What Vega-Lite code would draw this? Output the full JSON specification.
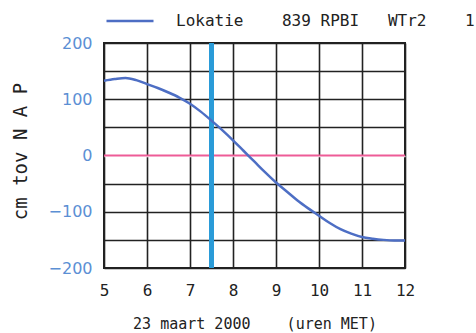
{
  "$schema": "https://vega.github.io/schema/vega-lite/v6.json",
  "autosize": {"type": "none"},
  "padding": {"left": 104, "top": 43, "right": 71, "bottom": 65},
  "width": 301,
  "height": 225,
  "background": "white",
  "config": {
    "view": {"stroke": "#222", "strokeWidth": 2},
    "font": "DejaVu Sans Mono"
  },
  "encoding": {
    "x": {
      "field": "hour", "type": "quantitative",
      "scale": {"domain": [5, 12], "nice": false},
      "axis": {
        "values": [5, 6, 7, 8, 9, 10, 11, 12],
        "grid": true, "gridColor": "#222", "gridWidth": 1.6, "gridOpacity": 1,
        "domain": false, "ticks": false,
        "labelFont": "DejaVu Sans Mono", "labelFontSize": 16, "labelColor": "#222",
        "labelPadding": 14, "labelFlush": false,
        "title": "23 maart 2000\u00a0\u00a0\u00a0\u00a0(uren MET)",
        "titleFont": "DejaVu Sans Mono", "titleFontSize": 15, "titleFontWeight": "normal",
        "titleColor": "#222", "titleY": 60, "titleBaseline": "alphabetic"
      }
    },
    "y": {
      "field": "cm", "type": "quantitative",
      "scale": {"domain": [-200, 200], "nice": false},
      "axis": {
        "values": [-200, -150, -100, -50, 0, 50, 100, 150, 200],
        "labelExpr": "datum.value % 100 == 0 ? datum.label : ''",
        "grid": true,
        "gridColor": {"condition": {"test": "datum.value === 0", "value": "#ffffff"}, "value": "#222"},
        "gridWidth": 1.6, "gridOpacity": 1,
        "domain": false, "ticks": false,
        "labelFont": "DejaVu Sans", "labelFontSize": 16, "labelColor": "#5b8fd4",
        "labelPadding": 12, "labelFlush": false,
        "title": "cm tov N A P",
        "titleFont": "DejaVu Sans Mono", "titleFontSize": 19, "titleFontWeight": "normal",
        "titleColor": "#222", "titleX": -84, "titleY": 108, "titleBaseline": "middle", "titleAlign": "center"
      }
    }
  },
  "layer": [
    {
      "data": {"values": [
        {"hour": 5, "cm": 0},
        {"hour": 12, "cm": 0}
      ]},
      "mark": {"type": "line", "color": "#ee5c97", "strokeWidth": 2.2}
    },
    {
      "data": {"values": [
        {"hour": 7.5, "cm": -200},
        {"hour": 7.5, "cm": 200}
      ]},
      "mark": {"type": "line", "color": "#2a9bd8", "strokeWidth": 5, "strokeCap": "butt"}
    },
    {
      "data": {"values": [
        {"hour": 5.0, "cm": 133, "series": "Lokatie\u00a0\u00a0\u00a0\u00a0839 RPBI\u00a0\u00a0\u00a0WTr2\u00a0\u00a0\u00a0\u00a01"},
        {"hour": 5.25, "cm": 136, "series": "Lokatie\u00a0\u00a0\u00a0\u00a0839 RPBI\u00a0\u00a0\u00a0WTr2\u00a0\u00a0\u00a0\u00a01"},
        {"hour": 5.5, "cm": 138, "series": "Lokatie\u00a0\u00a0\u00a0\u00a0839 RPBI\u00a0\u00a0\u00a0WTr2\u00a0\u00a0\u00a0\u00a01"},
        {"hour": 5.75, "cm": 134, "series": "Lokatie\u00a0\u00a0\u00a0\u00a0839 RPBI\u00a0\u00a0\u00a0WTr2\u00a0\u00a0\u00a0\u00a01"},
        {"hour": 6.0, "cm": 127, "series": "Lokatie\u00a0\u00a0\u00a0\u00a0839 RPBI\u00a0\u00a0\u00a0WTr2\u00a0\u00a0\u00a0\u00a01"},
        {"hour": 6.25, "cm": 120, "series": "Lokatie\u00a0\u00a0\u00a0\u00a0839 RPBI\u00a0\u00a0\u00a0WTr2\u00a0\u00a0\u00a0\u00a01"},
        {"hour": 6.5, "cm": 112, "series": "Lokatie\u00a0\u00a0\u00a0\u00a0839 RPBI\u00a0\u00a0\u00a0WTr2\u00a0\u00a0\u00a0\u00a01"},
        {"hour": 6.75, "cm": 103, "series": "Lokatie\u00a0\u00a0\u00a0\u00a0839 RPBI\u00a0\u00a0\u00a0WTr2\u00a0\u00a0\u00a0\u00a01"},
        {"hour": 7.0, "cm": 92, "series": "Lokatie\u00a0\u00a0\u00a0\u00a0839 RPBI\u00a0\u00a0\u00a0WTr2\u00a0\u00a0\u00a0\u00a01"},
        {"hour": 7.25, "cm": 78, "series": "Lokatie\u00a0\u00a0\u00a0\u00a0839 RPBI\u00a0\u00a0\u00a0WTr2\u00a0\u00a0\u00a0\u00a01"},
        {"hour": 7.5, "cm": 62, "series": "Lokatie\u00a0\u00a0\u00a0\u00a0839 RPBI\u00a0\u00a0\u00a0WTr2\u00a0\u00a0\u00a0\u00a01"},
        {"hour": 7.75, "cm": 45, "series": "Lokatie\u00a0\u00a0\u00a0\u00a0839 RPBI\u00a0\u00a0\u00a0WTr2\u00a0\u00a0\u00a0\u00a01"},
        {"hour": 8.0, "cm": 27, "series": "Lokatie\u00a0\u00a0\u00a0\u00a0839 RPBI\u00a0\u00a0\u00a0WTr2\u00a0\u00a0\u00a0\u00a01"},
        {"hour": 8.25, "cm": 8, "series": "Lokatie\u00a0\u00a0\u00a0\u00a0839 RPBI\u00a0\u00a0\u00a0WTr2\u00a0\u00a0\u00a0\u00a01"},
        {"hour": 8.5, "cm": -11, "series": "Lokatie\u00a0\u00a0\u00a0\u00a0839 RPBI\u00a0\u00a0\u00a0WTr2\u00a0\u00a0\u00a0\u00a01"},
        {"hour": 8.75, "cm": -30, "series": "Lokatie\u00a0\u00a0\u00a0\u00a0839 RPBI\u00a0\u00a0\u00a0WTr2\u00a0\u00a0\u00a0\u00a01"},
        {"hour": 9.0, "cm": -48, "series": "Lokatie\u00a0\u00a0\u00a0\u00a0839 RPBI\u00a0\u00a0\u00a0WTr2\u00a0\u00a0\u00a0\u00a01"},
        {"hour": 9.25, "cm": -64, "series": "Lokatie\u00a0\u00a0\u00a0\u00a0839 RPBI\u00a0\u00a0\u00a0WTr2\u00a0\u00a0\u00a0\u00a01"},
        {"hour": 9.5, "cm": -80, "series": "Lokatie\u00a0\u00a0\u00a0\u00a0839 RPBI\u00a0\u00a0\u00a0WTr2\u00a0\u00a0\u00a0\u00a01"},
        {"hour": 9.75, "cm": -94, "series": "Lokatie\u00a0\u00a0\u00a0\u00a0839 RPBI\u00a0\u00a0\u00a0WTr2\u00a0\u00a0\u00a0\u00a01"},
        {"hour": 10.0, "cm": -107, "series": "Lokatie\u00a0\u00a0\u00a0\u00a0839 RPBI\u00a0\u00a0\u00a0WTr2\u00a0\u00a0\u00a0\u00a01"},
        {"hour": 10.25, "cm": -120, "series": "Lokatie\u00a0\u00a0\u00a0\u00a0839 RPBI\u00a0\u00a0\u00a0WTr2\u00a0\u00a0\u00a0\u00a01"},
        {"hour": 10.5, "cm": -131, "series": "Lokatie\u00a0\u00a0\u00a0\u00a0839 RPBI\u00a0\u00a0\u00a0WTr2\u00a0\u00a0\u00a0\u00a01"},
        {"hour": 10.75, "cm": -139, "series": "Lokatie\u00a0\u00a0\u00a0\u00a0839 RPBI\u00a0\u00a0\u00a0WTr2\u00a0\u00a0\u00a0\u00a01"},
        {"hour": 11.0, "cm": -145, "series": "Lokatie\u00a0\u00a0\u00a0\u00a0839 RPBI\u00a0\u00a0\u00a0WTr2\u00a0\u00a0\u00a0\u00a01"},
        {"hour": 11.25, "cm": -148, "series": "Lokatie\u00a0\u00a0\u00a0\u00a0839 RPBI\u00a0\u00a0\u00a0WTr2\u00a0\u00a0\u00a0\u00a01"},
        {"hour": 11.5, "cm": -150, "series": "Lokatie\u00a0\u00a0\u00a0\u00a0839 RPBI\u00a0\u00a0\u00a0WTr2\u00a0\u00a0\u00a0\u00a01"},
        {"hour": 11.75, "cm": -151, "series": "Lokatie\u00a0\u00a0\u00a0\u00a0839 RPBI\u00a0\u00a0\u00a0WTr2\u00a0\u00a0\u00a0\u00a01"},
        {"hour": 12.0, "cm": -151, "series": "Lokatie\u00a0\u00a0\u00a0\u00a0839 RPBI\u00a0\u00a0\u00a0WTr2\u00a0\u00a0\u00a0\u00a01"}
      ]},
      "mark": {"type": "line", "strokeWidth": 2.5, "interpolate": "monotone"},
      "encoding": {
        "color": {
          "field": "series", "type": "nominal",
          "scale": {"range": ["#4d6ec4"]},
          "legend": {
            "title": null, "orient": "none", "legendX": 1, "legendY": -47,
            "symbolType": "stroke", "symbolSize": 2209, "symbolStrokeWidth": 2.5,
            "labelFont": "DejaVu Sans Mono", "labelFontSize": 16, "labelColor": "#222",
            "labelOffset": 21, "labelLimit": 0, "padding": 0
          }
        }
      }
    }
  ]
}
